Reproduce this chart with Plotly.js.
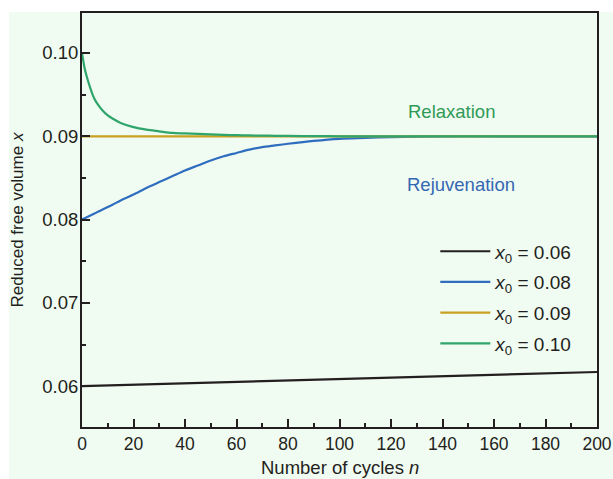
<!DOCTYPE html>
<html>
<head>
<meta charset="utf-8">
<script src="https://cdn.plot.ly/plotly-3.0.1.min.js"></script>
<style>html,body{margin:0;padding:0;background:#fff;}#chart{width:613px;height:479px;}</style>
</head>
<body>
<div id="chart"></div>
<script>
// Number of cycles grid for the curved series
const nGrid = [0,1,2,3,4,5,6,8,10,12,15,20,25,30,35,40,45,50,55,60,65,70,75,80,90,100,110,120,130,140,160,180,200];
// x0 = 0.10 (relaxation)
const xGreen = [0.1000,0.0982,0.0970,0.0960,0.0951,0.0944,0.0939,0.0931,0.0925,0.0921,0.0916,0.0911,0.0908,0.0906,0.0904,0.09035,0.0903,0.09022,0.09017,0.09013,0.0901,0.09008,0.09006,0.09004,0.09002,0.0900,0.0900,0.0900,0.0900,0.0900,0.0900,0.0900,0.0900];
// x0 = 0.08 (rejuvenation)
const xBlue = [0.0800,0.08015,0.0803,0.08045,0.0806,0.08075,0.0809,0.0812,0.0815,0.0818,0.0823,0.0830,0.0838,0.0845,0.0852,0.0859,0.0865,0.0871,0.0876,0.0880,0.0884,0.0887,0.0889,0.0891,0.08945,0.0897,0.0898,0.0899,0.08995,0.0900,0.0900,0.0900,0.0900];
// x0 = 0.06
const nBlack = [0,50,100,150,200];
const xBlack = [0.0600,0.06043,0.06086,0.06128,0.0617];
// x0 = 0.09
const nGold = [0,200];
const xGold = [0.0900,0.0900];

const seriesNames = ['<i>x</i><sub>0</sub> = 0.06','<i>x</i><sub>0</sub> = 0.08','<i>x</i><sub>0</sub> = 0.09','<i>x</i><sub>0</sub> = 0.10'];
const xTickVals = [0,20,40,60,80,100,120,140,160,180,200];
const yTickVals = [0.06,0.07,0.08,0.09,0.10];
const xTitle = 'Number of cycles <i>n</i>';
const yTitle = 'Reduced free volume <i>x</i>';

const cBlack='#231f20', cBlue='#2f6dbf', cGold='#c9a021', cGreen='#2fa56b';
const mint='#f0fbf1';
const fontFam='Liberation Sans, Arial, sans-serif';

const traces = [
  {x:nBlack,y:xBlack,name:seriesNames[0],legendgroup:'a',mode:'lines',line:{color:cBlack,width:2.2}},
  {x:nGrid,y:xBlue,name:seriesNames[1],legendgroup:'b',mode:'lines',line:{color:cBlue,width:2.2,shape:'spline',smoothing:0.8}},
  {x:nGold,y:xGold,name:seriesNames[2],legendgroup:'c',mode:'lines',line:{color:cGold,width:2.2}},
  {x:nGrid,y:xGreen,name:seriesNames[3],legendgroup:'d',mode:'lines',line:{color:cGreen,width:2.2,shape:'spline',smoothing:0.8}}
];

const axisCommon = {
  showline:true, linecolor:cBlack, linewidth:2, mirror:true,
  ticks:'inside', ticklen:8, tickwidth:2, tickcolor:cBlack,
  showgrid:false, zeroline:false
};

const layout = {
  width:613, height:479,
  margin:{l:82,r:16,t:13,b:52,pad:0},
  paper_bgcolor:'#ffffff', plot_bgcolor:mint,
  font:{family:fontFam,color:cBlack},
  showlegend:true,
  legend:{x:0.686,y:0.47,xanchor:'left',yanchor:'top',bgcolor:'rgba(0,0,0,0)',
          font:{family:fontFam,size:19,color:cBlack},traceorder:'grouped',tracegroupgap:3,itemwidth:50},
  xaxis:Object.assign({},axisCommon,{
    range:[0,200], tickvals:xTickVals, ticktext:xTickVals.map(String),
    tickfont:{family:fontFam,size:17.5,color:cBlack},
    minor:{dtick:10,ticks:'inside',ticklen:4,tickwidth:2,tickcolor:cBlack,showgrid:false}
  }),
  yaxis:Object.assign({},axisCommon,{
    range:[0.0551,0.1048], tickvals:yTickVals, ticktext:yTickVals.map(v=>v.toFixed(2)),
    tickfont:{family:fontFam,size:18.5,color:cBlack}, ticklabelstandoff:-2,
    minor:{dtick:0.005,tick0:0.055,ticks:'inside',ticklen:4,tickwidth:2,tickcolor:cBlack,showgrid:false},
    title:{text:yTitle,font:{family:fontFam,size:17,color:cBlack},standoff:14}
  }),
  shapes:[{type:'rect',xref:'paper',yref:'paper',x0:-0.1417,x1:1.04,y0:-0.14,y1:1.0024,
           fillcolor:mint,line:{width:0},layer:'below'}],
  annotations:[
    {text:xTitle,x:0.5,y:-0.099,xref:'paper',yref:'paper',xanchor:'center',yanchor:'middle',showarrow:false,
     font:{family:fontFam,size:18.5,color:cBlack}},
    {text:'Relaxation',x:143.3,y:0.0930,xref:'x',yref:'y',showarrow:false,font:{family:fontFam,size:18.5,color:'#2f9a57'}},
    {text:'Rejuvenation',x:147.2,y:0.08427,xref:'x',yref:'y',showarrow:false,font:{family:fontFam,size:18.5,color:'#3467b3'}}
  ]
};

Plotly.newPlot('chart',traces,layout,{displayModeBar:false,staticPlot:true});
</script>
</body>
</html>
